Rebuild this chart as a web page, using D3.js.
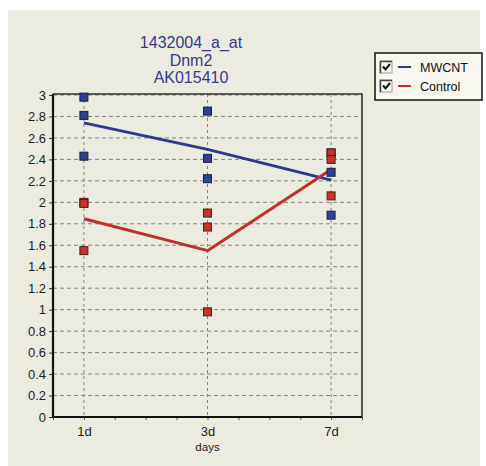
<!DOCTYPE html>
<html>
<head>
<meta charset="utf-8">
<script src="https://cdn.jsdelivr.net/npm/d3@7"></script>
<style>
  html, body { margin: 0; padding: 0; background: #ffffff; }
  svg { display: block; }
  text { font-family: "Liberation Sans", Arial, sans-serif; }
</style>
</head>
<body>
<svg id="chart" width="486" height="466"></svg>
<script>
// Probe set header
const titleLines = ["1432004_a_at", "Dnm2", "AK015410"];

// Time points (placed on a 0..10 axis at positions 1, 5, 9)
const categories = ["1d", "3d", "7d"];
const categoryPos = [1, 5, 9];
const xAxisTitle = "days";

// Replicate expression values per time point
const mwcntValues = [
  [2.98, 2.81, 2.43],
  [2.85, 2.41, 2.22],
  [2.46, 2.28, 1.88]
];
const controlValues = [
  [2.00, 1.99, 1.55],
  [1.90, 1.77, 0.98],
  [2.46, 2.40, 2.06]
];

const yTicks = [0, 0.2, 0.4, 0.6, 0.8, 1, 1.2, 1.4, 1.6, 1.8, 2, 2.2, 2.4, 2.6, 2.8, 3];
const xMinorTicks = [0, 1, 2, 3, 4, 5, 6, 7, 8, 9, 10];

const seriesList = [
  { name: "MWCNT", values: mwcntValues, line: "#2c3a92", fill: "#2b4394", edge: "#1c2040" },
  { name: "Control", values: controlValues, line: "#c0302c", fill: "#c4342c", edge: "#4a1e1a" }
];

const svg = d3.select("#chart");

// panel background
svg.append("rect").attr("x", 8).attr("y", 10).attr("width", 472).attr("height", 456)
  .attr("fill", "#ecebdf");

const plotL = 53, plotR = 362, plotT = 94, plotB = 417;
const x = d3.scaleLinear().domain([0, 10]).range([plotL, plotR]);
const y = d3.scaleLinear().domain([0, 3]).range([plotB, plotT + 1]);

// title
const title = svg.append("text").attr("text-anchor", "middle")
  .attr("font-size", 16).attr("fill", "#38388e");
titleLines.forEach((t, i) => {
  title.append("tspan").attr("x", 191).attr("y", 48 + i * 17.5).text(t);
});

// horizontal grid
svg.append("g").selectAll("line").data(yTicks.filter(v => v > 0)).join("line")
  .attr("x1", plotL).attr("x2", plotR)
  .attr("y1", d => y(d)).attr("y2", d => y(d))
  .attr("stroke", "#85847a").attr("stroke-width", 1).attr("stroke-dasharray", "4,3");

// vertical grid at each time point
svg.append("g").selectAll("line").data(categoryPos).join("line")
  .attr("x1", d => x(d)).attr("x2", d => x(d))
  .attr("y1", plotT).attr("y2", plotB)
  .attr("stroke", "#85847a").attr("stroke-width", 1).attr("stroke-dasharray", "3,3");

// frame: top and right edges
svg.append("path")
  .attr("d", `M${plotL},${plotT}H${plotR}V${plotB}`)
  .attr("fill", "none").attr("stroke", "#2a2a2a").attr("stroke-width", 1.5);

// y axis
const yAxis = d3.axisLeft(y).tickValues(yTicks).tickSize(4).tickPadding(3)
  .tickFormat(d => String(+d.toFixed(1)));
const gy = svg.append("g").attr("transform", `translate(${plotL},0)`).call(yAxis);
gy.select(".domain").remove();
gy.selectAll(".tick line").attr("stroke", "#333");
gy.selectAll(".tick text").attr("font-size", 13).attr("fill", "#1e1e1e")
  .attr("font-family", "Liberation Sans, Arial, sans-serif");

// x axis
const xAxis = d3.axisBottom(x).tickValues(xMinorTicks).tickSize(3).tickPadding(7)
  .tickFormat(d => {
    const i = categoryPos.indexOf(d);
    return i >= 0 ? categories[i] : "";
  });
const gx = svg.append("g").attr("transform", `translate(0,${plotB})`).call(xAxis);
gx.select(".domain").remove();
gx.selectAll(".tick line").attr("stroke", "#555");
gx.selectAll(".tick text").attr("font-size", 13).attr("fill", "#1e1e1e")
  .attr("font-family", "Liberation Sans, Arial, sans-serif");

svg.append("text").attr("x", x(5)).attr("y", 451).attr("text-anchor", "middle")
  .attr("font-size", 11.5).attr("fill", "#222").text(xAxisTitle);

// left and bottom axis lines
svg.append("path")
  .attr("d", `M${plotL},${plotT}V${plotB}H${plotR}`)
  .attr("fill", "none").attr("stroke", "#111").attr("stroke-width", 2.2);

// mean lines
const line = d3.line().x(d => x(d.pos)).y(d => y(d.mean));
seriesList.forEach(s => {
  const pts = s.values.map((vals, i) => ({ pos: categoryPos[i], mean: d3.mean(vals) }));
  svg.append("path").datum(pts).attr("d", line)
    .attr("fill", "none").attr("stroke", s.line).attr("stroke-width", 3)
    .attr("stroke-linejoin", "round");
});

// replicate markers
const sz = 8;
seriesList.forEach(s => {
  const pts = [];
  s.values.forEach((vals, i) => vals.forEach(v => pts.push({ pos: categoryPos[i], v })));
  svg.append("g").selectAll("rect").data(pts).join("rect")
    .attr("x", d => x(d.pos) - sz / 2).attr("y", d => y(d.v) - sz / 2)
    .attr("width", sz).attr("height", sz)
    .attr("fill", s.fill).attr("stroke", s.edge).attr("stroke-width", 1);
});

// legend
const lg = svg.append("g");
lg.append("rect").attr("x", 375).attr("y", 53).attr("width", 107).attr("height", 47)
  .attr("fill", "#f7f6ef").attr("stroke", "#111").attr("stroke-width", 1.5);
seriesList.forEach((s, i) => {
  const cy = 67 + i * 19;
  const bx = 380, by = cy - 6;
  lg.append("rect").attr("x", bx).attr("y", by).attr("width", 12).attr("height", 12)
    .attr("fill", "#fbfbf6").attr("stroke", "#9a9a94").attr("stroke-width", 1);
  lg.append("path").attr("d", `M${bx + 0.5},${by + 12}V${by + 0.5}H${bx + 12}`)
    .attr("fill", "none").attr("stroke", "#444").attr("stroke-width", 1.5);
  lg.append("path").attr("d", `M${bx + 3},${by + 5.5}L${bx + 5.5},${by + 8.5}L${bx + 10},${by + 3}`)
    .attr("fill", "none").attr("stroke", "#111").attr("stroke-width", 2);
  lg.append("line").attr("x1", 398).attr("x2", 411).attr("y1", cy).attr("y2", cy)
    .attr("stroke", s.line).attr("stroke-width", 2);
  lg.append("text").attr("x", 420).attr("y", cy + 4.5).attr("font-size", 12.5)
    .attr("fill", "#111").text(s.name);
});
</script>
</body>
</html>
